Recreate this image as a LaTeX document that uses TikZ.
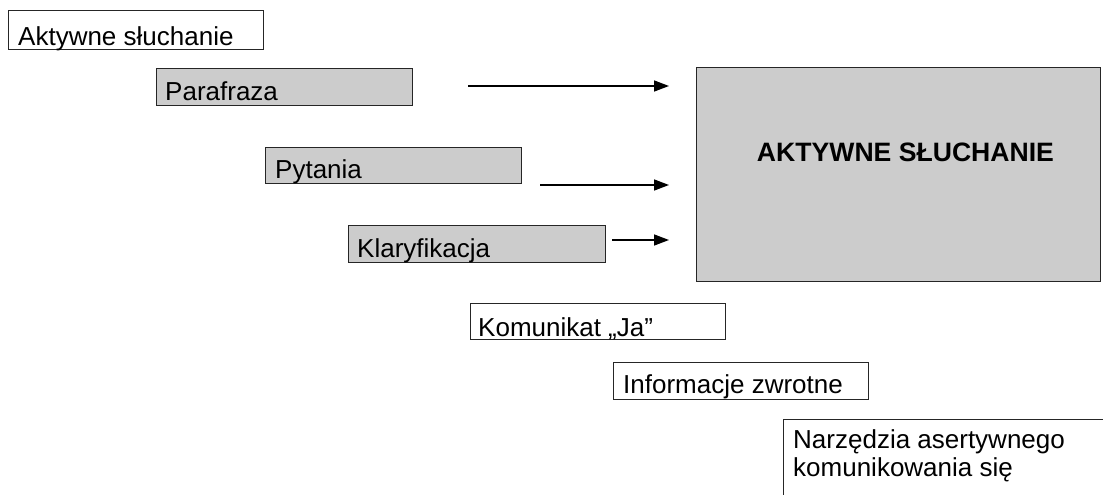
\documentclass[tikz,border=0pt]{standalone}
\usepackage{fontspec}
\setmainfont{Liberation Sans}
\usetikzlibrary{arrows.meta}
\begin{document}
\begin{tikzpicture}[x=1pt,y=-1pt,
  wbox/.style={draw=black!85,line width=1pt,fill=white,anchor=north west,inner sep=0pt},
  gbox/.style={draw=black!85,line width=1pt,fill=black!20,anchor=north west,inner sep=0pt},
  lbl/.style={anchor=base west,inner sep=0pt,font=\fontsize{26pt}{28pt}\selectfont},
  arr/.style={line width=1.5pt,-{Triangle[length=15pt,width=11pt]}}]
\clip (0,0) rectangle (1103,495);
\fill[white] (0,0) rectangle (1103,495);

% boxes
\node[wbox,minimum width=255pt,minimum height=39pt] (b1) at (8,10) {};
\node[gbox,minimum width=256pt,minimum height=37pt] (b2) at (156,68) {};
\node[gbox,minimum width=256pt,minimum height=36pt] (b3) at (265,147) {};
\node[gbox,minimum width=257pt,minimum height=37pt] (b4) at (348,225) {};
\node[gbox,minimum width=404pt,minimum height=214pt] (big) at (696,67) {};
\node[wbox,minimum width=255pt,minimum height=36pt] (b5) at (470,303) {};
\node[wbox,minimum width=255pt,minimum height=37pt] (b6) at (613,362) {};
\node[wbox,minimum width=340pt,minimum height=100pt] (b7) at (783,419) {};

% labels
\node[lbl] (t1) at (18,45.5) {Aktywne słuchanie};
\node[lbl] (t2) at (165,100) {Parafraza};
\node[lbl] (t3) at (275,178) {Pytania};
\node[lbl] (t4) at (357,257) {Klaryfikacja};
\node[lbl] (t5) at (478,336) {Komunikat „Ja”};
\node[lbl] (t6) at (623,393) {Informacje zwrotne};
\node[lbl,align=left,anchor=north west] (t7) at (793,429) {Narzędzia asertywnego\\komunikowania się};
\node[inner sep=0pt,font=\fontsize{26.6pt}{28pt}\selectfont\bfseries] (title) at (905.5,152) {AKTYWNE SŁUCHANIE};

% arrows
\coordinate (a1s) at (468,86);  \coordinate (a1e) at (669,86);
\coordinate (a2s) at (540,185); \coordinate (a2e) at (669,185);
\coordinate (a3s) at (612,240); \coordinate (a3e) at (669,240);
\draw[arr] (a1s) -- (a1e);
\draw[arr] (a2s) -- (a2e);
\draw[arr] (a3s) -- (a3e);
\end{tikzpicture}
\end{document}
